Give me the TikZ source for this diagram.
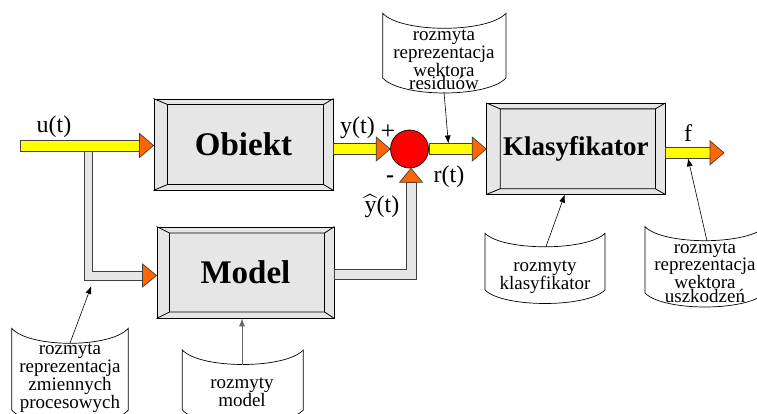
\documentclass[tikz,border=0pt]{standalone}
\usepackage{fontspec}
\setmainfont{Liberation Serif}
\usepackage{amsmath}
\usetikzlibrary{calc,arrows.meta}

\definecolor{face}{RGB}{230,230,230}
\definecolor{barY}{RGB}{255,255,0}
\definecolor{headO}{RGB}{255,102,0}
\definecolor{sumR}{RGB}{255,0,0}

\tikzset{
  block/.style={draw=black, fill=face, line width=0.9pt, inner sep=0pt},
  bevel/.style={draw=black, line width=0.8pt},
  ybar/.style={draw=black!75, fill=barY, line width=0.7pt},
  gbar/.style={draw=black!75, fill=face, line width=0.7pt},
  ohead/.style={draw=black!75, fill=headO, line width=0.7pt},
  doc/.style={draw=black, line width=0.7pt, fill=white},
  doctext/.style={align=center, inner sep=0pt, font=\fontsize{19}{13.5}\selectfont},
  doctextwide/.style={doctext, font=\fontsize{19}{16.7}\selectfont},
  lbl/.style={inner sep=0pt, font=\fontsize{24}{24}\selectfont},
  pin/.style={-{Latex[length=8pt,width=6pt]}, line width=0.6pt},
}

% inner face and corner lines of a bevelled block
\newcommand\bevelframe[5]{%
  \coordinate (#1-a) at ($(#1.north west)+(#2,#3)$);
  \coordinate (#1-b) at ($(#1.north east)+(-#4,#3)$);
  \coordinate (#1-c) at ($(#1.south east)+(-#4,-#5)$);
  \coordinate (#1-d) at ($(#1.south west)+(#2,-#5)$);
  \draw[bevel] (#1-a) -- (#1-b) -- (#1-c) -- (#1-d) -- cycle
    (#1.north west) -- (#1-a) (#1.north east) -- (#1-b)
    (#1.south east) -- (#1-c) (#1.south west) -- (#1-d);
}

% horizontal yellow signal arrow from #1 to the tip #2
\newcommand\yarrow[2]{%
  \draw[ybar] let \p1=(#1), \p2=(#2) in (\x1,\y2+5.5pt) rectangle (\x2-14pt,\y2-5.5pt);
  \draw[ohead] let \p2=(#2) in (\x2,\y2) -- (\x2-14pt,\y2+12pt) -- (\x2-14pt,\y2-12pt) -- cycle;
}

% curled sheet: x left, x right, y top corners, y bottom corners, sag
\newcommand\docshape[5]{%
  \draw[doc] (#1,#3)
    .. controls ({#1+0.15*(#2-#1)},{#3+1.333*#5}) and ({#2-0.15*(#2-#1)},{#3+1.333*#5}) .. (#2,#3)
    -- (#2,#4)
    .. controls ({#2-0.15*(#2-#1)},{#4+1.333*#5}) and ({#1+0.15*(#2-#1)},{#4+1.333*#5}) .. (#1,#4)
    -- cycle;
}

\begin{document}
\begin{tikzpicture}[x=1pt, y=-1pt]
\useasboundingbox (0,0) rectangle (757,414);
\clip (0,0) rectangle (757,414);

% ---- knowledge sheets
\docshape{382.7}{506}{13.3}{78}{15}
\node[doctext] (dres) at (444,60) {rozmyta\\reprezentacja\\wektora\\residuów};
\coordinate (dres-out) at (444,92);

\docshape{485}{605}{233.3}{290}{13.5}
\node[doctextwide] (dkl) at (545,277) {rozmyty\\klasyfikator};
\coordinate (dkl-out) at (546,246.5);

\docshape{645}{765}{226.7}{293}{14}
\node[doctext] (dusz) at (705,272.5) {rozmyta\\reprezentacja\\wektora\\uszkodzeń};
\coordinate (dusz-out) at (707,241);

\docshape{11.7}{128.3}{328.3}{410}{15}
\node[doctext] (dzm) at (70,378.5) {rozmyta\\reprezentacja\\zmiennych\\procesowych};
\coordinate (dzm-out) at (70,343);

\docshape{182.3}{303.3}{350}{410}{14.5}
\node[doctextwide] (dmod) at (242,392) {rozmyty\\model};
\coordinate (dmod-out) at (242,364.5);

% ---- blocks
\node[block, minimum width=179pt, minimum height=91pt,
      font=\bfseries\fontsize{33}{33}\selectfont] (obj) at (243.5,144.5) {Obiekt};
\bevelframe{obj}{14}{6}{10}{6}

\node[block, minimum width=177pt, minimum height=91pt,
      font=\bfseries\fontsize{33}{33}\selectfont] (mod) at (245.5,272.5) {Model};
\bevelframe{mod}{13}{6.5}{10}{6.5}

\node[block, minimum width=178.3pt, minimum height=90.7pt,
      font=\bfseries\fontsize{27}{27}\selectfont] (kl) at (575.8,148.7) {Klasyfikator};
\bevelframe{kl}{14}{6}{10}{5.7}

\node[circle, draw=black, fill=sumR, minimum size=38pt, inner sep=0pt,
      line width=0.7pt] (sum) at (409.5,149) {};

% ---- signal paths
\coordinate (uin) at (20,145.5);
\coordinate (tap) at (88.3,145.5);
\coordinate (mlev) at (0,275.5);
\coordinate (fb) at (411,274);
\coordinate (fout) at (724,152.8);
\coordinate (rtop) at ($(sum.east)+(19.5,-5.5)$);

% branch of u(t) to the model
\draw[gbar] let \p1=(tap), \p2=(mod.west |- mlev) in
  (\x1-4pt,\y1-5.5pt) -- (\x1+4pt,\y1-5.5pt) -- (\x1+4pt,\y2+4.5pt)
  -- (\x2-14pt,\y2+4.5pt) -- (\x2-14pt,\y2-4.5pt) -- (\x1-4pt,\y2-4.5pt) -- cycle;
\draw[ohead] let \p2=(mod.west |- mlev) in
  (\x2,\y2) -- (\x2-14pt,\y2+11.5pt) -- (\x2-14pt,\y2-11.5pt) -- cycle;

\yarrow{uin}{obj.west |- uin}

% model output to the summing point
\draw[gbar] let \p1=(mod.east |- fb), \p2=(fb |- sum.south) in
  (\x1,\y1+5pt) -- (\x2-5pt,\y1+5pt) -- (\x2-5pt,\y2-14pt) -- (\x2+5pt,\y2-14pt)
  -- (\x2+5pt,\y1-5pt) -- (\x1,\y1-5pt) -- cycle;
\draw[ohead] let \p2=(fb |- sum.south) in
  (\x2,\y2) -- (\x2-11.5pt,\y2-14pt) -- (\x2+11.5pt,\y2-14pt) -- cycle;

\yarrow{obj.east |- sum}{sum.west}
\yarrow{sum.east}{kl.west |- sum}
\yarrow{kl.east |- fout}{fout}

% ---- signal labels
\node[lbl] (lu) at (54,127) {u(t)};
\node[lbl] (ly) at (357.5,128) {y(t)};
\node[lbl, font=\fontsize{26}{26}\selectfont] (lplus) at (388,132) {+};
\node[lbl, font=\bfseries\fontsize{24}{24}\selectfont] (lminus) at (390,179) {-};
\node[lbl] (lr) at (449,177) {r(t)};
\node[lbl] (lyh) at (382,206) {$\widehat{\text{y}}$(t)};
\node[lbl] (lf) at (688,133) {f};

% ---- knowledge links
\draw[pin] (dres-out) -- (rtop);
\draw[pin] (dkl-out) -- ($(kl.south)+(-11,0)$);
\draw[pin] (dusz-out) -- ($(fout)+(-36,5.5)$);
\draw[pin] (dzm-out) -- ($(tap)+(3,140.5)$);
\draw[pin, draw=black!60, fill=black!60] (dmod-out) -- (dmod-out |- mod.south);
\end{tikzpicture}
\end{document}
